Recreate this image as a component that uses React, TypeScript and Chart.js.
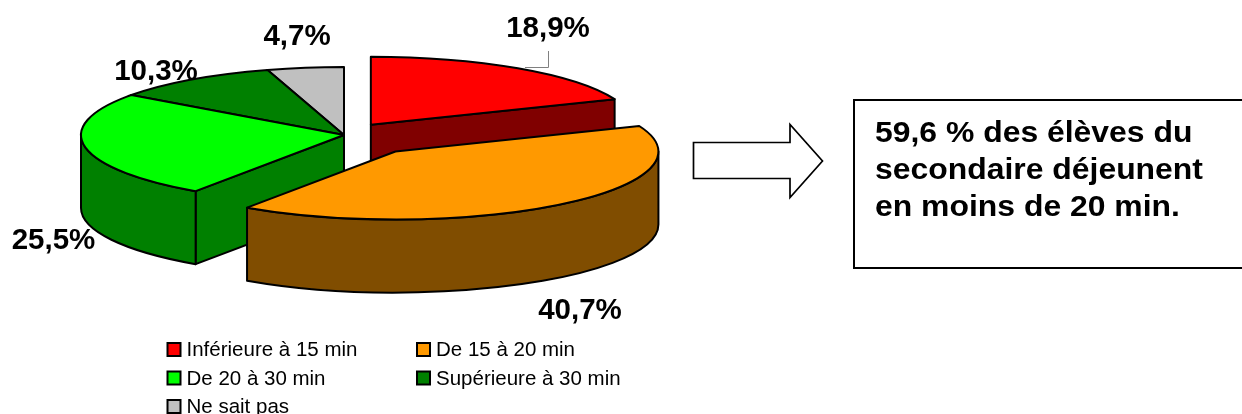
import React, { useEffect, useRef } from "react";
import { Chart, registerables } from "chart.js";

Chart.register(...registerables);

const categories = ["Inférieure à 15 min", "De 15 à 20 min", "De 20 à 30 min", "Supérieure à 30 min", "Ne sait pas"];
const shares = [18.9, 40.7, 25.5, 10.3, 4.7];
const topColors = ["#FF0000", "#FF9900", "#00FF00", "#008000", "#C0C0C0"];
const wallColors = ["#800000", "#804D00", "#008000", "#004000", "#606060"];
const explodeBy = [48, 82, 0, 0, 0];
const paintOrder = [4, 3, 2, 0, 1];
const noteLines = ["59,6 % des élèves du", "secondaire déjeunent", "en moins de 20 min."];

const FONT = '"Liberation Sans", Arial, sans-serif';
const SQUASH = 68 / 263;
const DEPTH = 73;
const CENTER_Y = 135;
const labelSpots = [
  [548, 37],
  [580, 318.5],
  [53.5, 248.5],
  [156, 80],
  [297, 45],
];

const pie3d = {
  id: "pie3d",
  beforeDatasetsDraw(chart: any) {
    const { ctx } = chart;
    ctx.save();
    ctx.font = `bold 29.5px ${FONT}`;
    ctx.fillStyle = "#000";
    ctx.textAlign = "center";
    ctx.textBaseline = "alphabetic";
    shares.forEach((v, i) => {
      ctx.fillText(`${String(v).replace(".", ",")}%`, labelSpots[i][0], labelSpots[i][1]);
    });
    ctx.restore();
  },
  beforeDatasetDraw(chart: any) {
    const { ctx } = chart;
    const arcs = chart.getDatasetMeta(0).data;
    const geom = (i: number) => {
      const a = arcs[i];
      const mid = (a.startAngle + a.endAngle) / 2;
      return {
        a,
        x: a.x + Math.cos(mid) * explodeBy[i],
        y: CENTER_Y + Math.sin(mid) * explodeBy[i] * SQUASH,
        r: a.outerRadius,
      };
    };
    ctx.save();
    ctx.lineJoin = "round";
    ctx.lineWidth = 2;
    ctx.strokeStyle = "#000";
    for (const i of paintOrder) {
      const { a, x, y, r } = geom(i);
      ctx.fillStyle = wallColors[i];
      const face = (t: number) => {
        const px = x + r * Math.cos(t);
        const py = y + r * SQUASH * Math.sin(t);
        ctx.beginPath();
        ctx.moveTo(x, y);
        ctx.lineTo(px, py);
        ctx.lineTo(px, py + DEPTH);
        ctx.lineTo(x, y + DEPTH);
        ctx.closePath();
        ctx.fill();
        ctx.stroke();
      };
      if (Math.cos(a.startAngle) < -1e-6) face(a.startAngle);
      if (Math.cos(a.endAngle) > 1e-6) face(a.endAngle);
      const t0 = Math.max(a.startAngle, 0);
      const t1 = Math.min(a.endAngle, Math.PI);
      if (t1 > t0) {
        ctx.beginPath();
        ctx.ellipse(x, y, r, r * SQUASH, 0, t0, t1);
        ctx.ellipse(x, y + DEPTH, r, r * SQUASH, 0, t1, t0, true);
        ctx.closePath();
        ctx.fill();
        ctx.stroke();
      }
    }
    for (const i of paintOrder) {
      const { a, x, y, r } = geom(i);
      ctx.save();
      ctx.translate(x - a.x, y);
      ctx.scale(1, SQUASH);
      ctx.translate(0, -a.y);
      a.draw(ctx);
      ctx.restore();
      ctx.beginPath();
      ctx.moveTo(x, y);
      ctx.ellipse(x, y, r, r * SQUASH, 0, a.startAngle, a.endAngle);
      ctx.closePath();
      ctx.stroke();
    }
    ctx.restore();
    return false;
  },
  afterDraw(chart: any) {
    const { ctx } = chart;
    ctx.save();
    // leader line
    ctx.strokeStyle = "#808080";
    ctx.lineWidth = 1;
    ctx.beginPath();
    ctx.moveTo(548.5, 51);
    ctx.lineTo(548.5, 67.5);
    ctx.lineTo(525, 67.5);
    ctx.stroke();
    // legend
    ctx.font = `20.5px ${FONT}`;
    ctx.textBaseline = "alphabetic";
    categories.forEach((c, i) => {
      const lx = i % 2 === 0 ? 167.5 : 417;
      const ly = 349.5 + Math.floor(i / 2) * 28.5;
      ctx.fillStyle = topColors[i];
      ctx.strokeStyle = "#000";
      ctx.lineWidth = 2;
      ctx.fillRect(lx, ly - 6.5, 13, 13);
      ctx.strokeRect(lx, ly - 6.5, 13, 13);
      ctx.fillStyle = "#000";
      ctx.fillText(c, lx + 19, ly + 6.5);
    });
    // arrow
    ctx.strokeStyle = "#000";
    ctx.lineWidth = 1.7;
    ctx.fillStyle = "#fff";
    ctx.beginPath();
    ctx.moveTo(693.5, 142.5);
    ctx.lineTo(790, 142.5);
    ctx.lineTo(790, 124.5);
    ctx.lineTo(822.5, 161);
    ctx.lineTo(790, 197.5);
    ctx.lineTo(790, 178.5);
    ctx.lineTo(693.5, 178.5);
    ctx.closePath();
    ctx.fill();
    ctx.stroke();
    // note box
    ctx.lineWidth = 2;
    ctx.strokeRect(854, 100, 420, 168);
    ctx.fillStyle = "#000";
    ctx.font = `bold 29px ${FONT}`;
    ctx.textBaseline = "alphabetic";
    noteLines.forEach((t, i) => {
      ctx.save();
      ctx.translate(875, 142 + i * 37);
      ctx.scale(1.1, 1);
      ctx.fillText(t, 0, 0);
      ctx.restore();
    });
    ctx.restore();
  },
};

export default function App() {
  const ref = useRef<HTMLCanvasElement>(null);
  useEffect(() => {
    const chart = new Chart(ref.current!, {
      type: "pie",
      data: {
        labels: categories,
        datasets: [{ data: shares, backgroundColor: topColors, borderWidth: 0 }],
      },
      options: {
        animation: false,
        responsive: false,
        events: [],
        radius: 263,
        layout: { padding: { right: 554 } },
        plugins: { legend: { display: false }, tooltip: { enabled: false } },
      } as any,
      plugins: [pie3d],
    });
    return () => chart.destroy();
  }, []);
  return (
    <canvas
      ref={ref}
      width={1242}
      height={414}
      style={{ position: "absolute", left: 0, top: 0, display: "block" }}
    />
  );
}
